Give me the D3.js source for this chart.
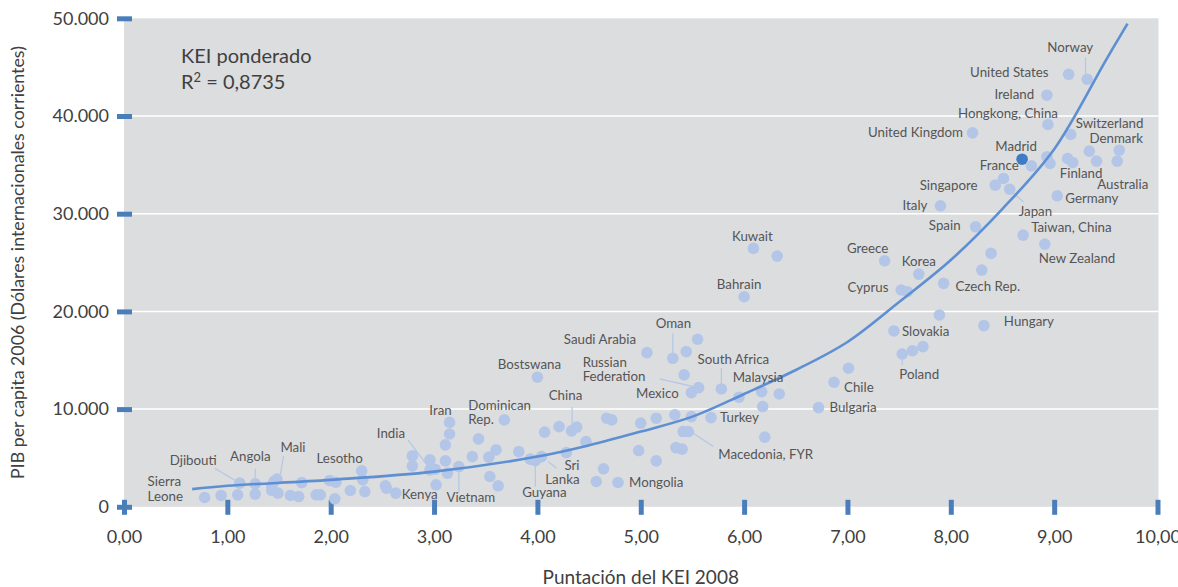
<!DOCTYPE html>
<html>
<head>
<meta charset="utf-8">
<script src="https://cdn.jsdelivr.net/npm/d3@7"></script>
<style>
  body { margin: 0; background: #fff; }
  svg { display: block; font-family: Lato, "Open Sans", sans-serif; }
</style>
</head>
<body>
<div id="chart"></div>
<script>
// KEI 2008 score vs GDP per capita 2006
const countryNames = [
  "Sierra Leone", "", "", "Djibouti", "", "Angola", "", "", "", "Mali",
  "", "", "", "", "", "", "Lesotho", "", "", "",
  "", "", "", "", "", "Kenya", "", "", "", "India",
  "", "", "", "", "", "Iran", "", "Vietnam", "", "Dominican Rep.",
  "", "", "", "", "", "", "", "Guyana", "Sri Lanka", "Bostswana",
  "", "", "China", "", "", "", "", "", "", "",
  "Mongolia", "", "", "", "", "", "Macedonia, FYR", "", "", "",
  "", "Mexico", "", "Russian Federation", "Saudi Arabia", "Oman", "", "", "South Africa", "",
  "Malaysia", "", "", "", "Turkey", "Bulgaria", "Chile", "", "Kuwait", "",
  "Bahrain", "Greece", "Korea", "Cyprus", "", "Czech Rep.", "", "", "Spain", "Italy",
  "Taiwan, China", "New Zealand", "Germany", "", "Hungary", "Slovakia", "Poland", "", "", "Hongkong, China",
  "United Kingdom", "Switzerland", "Madrid", "France", "", "", "", "Finland", "", "Denmark",
  "", "Australia", "Singapore", "", "Japan", "United States", "Norway", "Ireland"
];

const keiScores = [
  0.78, 0.94, 1.10, 1.12, 1.27, 1.27, 1.43, 1.43, 1.45, 1.48,
  1.49, 1.61, 1.69, 1.72, 1.86, 1.90, 1.99, 2.05, 2.04, 2.19,
  2.30, 2.31, 2.33, 2.53, 2.54, 2.63, 2.79, 2.79, 2.96, 2.96,
  3.01, 3.02, 3.11, 3.11, 3.15, 3.15, 3.13, 3.24, 3.43, 3.68,
  3.37, 3.53, 3.60, 3.54, 3.62, 3.82, 3.93, 3.98, 4.04, 4.00,
  4.07, 4.21, 4.33, 4.38, 4.28, 4.47, 4.67, 4.72, 4.64, 4.57,
  4.78, 5.00, 5.15, 5.33, 5.49, 5.41, 5.46, 4.98, 5.15, 5.34,
  5.40, 5.49, 5.42, 5.56, 5.06, 5.31, 5.44, 5.55, 5.78, 5.95,
  6.17, 6.34, 6.18, 6.20, 5.68, 6.72, 6.87, 7.01, 6.09, 6.32,
  6.00, 7.36, 7.69, 7.52, 7.58, 7.93, 8.30, 8.39, 8.24, 7.90,
  8.70, 8.91, 9.03, 7.89, 8.32, 7.45, 7.53, 7.63, 7.73, 8.94,
  8.21, 9.16, 8.69, 8.78, 8.93, 8.96, 9.13, 9.18, 9.34, 9.63,
  9.41, 9.61, 8.43, 8.51, 8.57, 9.14, 9.32, 8.93
];

const gdpPerCapita = [
  950, 1160, 1230, 2420, 1300, 2350, 1670, 2150, 2590, 2830,
  1400, 1160, 1050, 2480, 1230, 1230, 2690, 2520, 820, 1670,
  3680, 2760, 1560, 2150, 1910, 1400, 5210, 4190, 4800, 3780,
  3850, 2250, 4700, 6340, 7450, 8640, 3450, 4120, 6950, 8900,
  5140, 5080, 5830, 3100, 2150, 5650, 4880, 4730, 5140, 13260,
  7640, 8210, 7770, 8150, 5550, 6680, 9070, 8900, 3890, 2590,
  2490, 8560, 9070, 9410, 9230, 7700, 7700, 5760, 4700, 6060,
  5900, 11690, 13500, 12200, 15780, 15200, 15880, 17150, 12060, 11220,
  11790, 11550, 10260, 7130, 9130, 10150, 12750, 14180, 26450, 25660,
  21500, 25180, 23820, 22190, 22010, 22870, 24230, 25940, 28660, 30810,
  27810, 26890, 31830, 19630, 18540, 18000, 15640, 15980, 16390, 39130,
  38270, 38110, 35580, 34900, 35820, 35140, 35650, 35240, 36400, 36500,
  35380, 35380, 32920, 33610, 32510, 44270, 43760, 42130
];

// trendline (exponential fit in the original)
const trendKei = [0.66, 1, 2, 3, 4, 4.5, 5, 5.5, 6, 6.5, 7, 7.5, 8, 8.5, 9, 9.5, 9.71];
const trendGdp = [1810, 2150, 2760, 3600, 5140, 6300, 7700, 9230, 11550, 14000, 16870, 20960, 25260, 30500, 36600, 45700, 49460];

const xTicks = [0, 1, 2, 3, 4, 5, 6, 7, 8, 9, 10];
const yTicks = [0, 10000, 20000, 30000, 40000, 50000];

const highlighted = "Madrid";

// label placement relative to its point (px)
const labelLayout = [
  { name: "Sierra Leone", lines: ["Sierra", "Leone"], dx: -57, dy: -11.5, anchor: "start" },
  { name: "Djibouti", dx: -70, dy: -18, anchor: "start", leader: [-25, -15, -5, -3] },
  { name: "Angola", dx: -5, dy: -23, anchor: "middle", leader: [0, -15, 0, -6] },
  { name: "Mali", dx: 16, dy: -27, anchor: "middle", leader: [6.6, -23, 3.5, -5] },
  { name: "Lesotho", dx: 10, dy: -18, anchor: "middle" },
  { name: "Kenya", dx: 6, dy: 5.7, anchor: "start" },
  { name: "India", dx: -39, dy: -32, anchor: "middle", leader: [-22, -30, -3, -5] },
  { name: "Iran", dx: -9, dy: -7.5, anchor: "middle" },
  { name: "Vietnam", dx: 12, dy: 35, anchor: "middle", leader: [0, 5, 0, 26] },
  { name: "Dominican Rep.", lines: ["Dominican", "Rep."], dx: -36, dy: -10, anchor: "start" },
  { name: "China", dx: -6, dy: -31, anchor: "middle", leader: [0.6, -24, 0.6, -5] },
  { name: "Sri Lanka", lines: ["Sri", "Lanka"], dx: 38, dy: 13, anchor: "end", leader: [6.6, 5, 15, 11.6] },
  { name: "Guyana", dx: 9, dy: 36.5, anchor: "middle", leader: [0, 4, 0, 26] },
  { name: "Mongolia", dx: 11, dy: 5, anchor: "start" },
  { name: "Bostswana", dx: -8, dy: -8, anchor: "middle" },
  { name: "Saudi Arabia", dx: -47, dy: -9, anchor: "middle" },
  { name: "Oman", dx: 0.6, dy: -30, anchor: "middle", leader: [0, -25, 0, -5] },
  { name: "Russian Federation", lines: ["Russian", "Federation"], dx: -116, dy: -21, anchor: "start", leader: [-39, -8.7, -5, -1] },
  { name: "Mexico", dx: -34, dy: 5, anchor: "middle" },
  { name: "South Africa", dx: 12, dy: -25, anchor: "middle", leader: [0, -21, 0, -5] },
  { name: "Malaysia", dx: -3.7, dy: -9.7, anchor: "middle" },
  { name: "Turkey", dx: 9, dy: 4, anchor: "start" },
  { name: "Macedonia, FYR", dx: 30, dy: 27, anchor: "start", leader: [5, 1.6, 25, 15] },
  { name: "Bulgaria", dx: 11, dy: 4, anchor: "start" },
  { name: "Chile", dx: 10, dy: 10, anchor: "start" },
  { name: "Poland", dx: 17, dy: 25, anchor: "middle", leader: [0, 5, 0, 11] },
  { name: "Slovakia", dx: 8, dy: 5, anchor: "start" },
  { name: "Hungary", dx: 20, dy: 0, anchor: "start" },
  { name: "Kuwait", dx: -1, dy: -7, anchor: "middle" },
  { name: "Bahrain", dx: -5, dy: -8, anchor: "middle" },
  { name: "Greece", dx: -17, dy: -8, anchor: "middle" },
  { name: "Korea", dx: 0, dy: -8, anchor: "middle" },
  { name: "Cyprus", dx: -12.7, dy: 2, anchor: "end" },
  { name: "Czech Rep.", dx: 12, dy: 8, anchor: "start" },
  { name: "Spain", dx: -15, dy: 3, anchor: "end" },
  { name: "Italy", dx: -13, dy: 4, anchor: "end" },
  { name: "Japan", dx: 9, dy: 27, anchor: "start", leader: [4, 4, 14, 13] },
  { name: "Taiwan, China", dx: 8, dy: -3, anchor: "start" },
  { name: "New Zealand", dx: -6, dy: 19, anchor: "start" },
  { name: "Germany", dx: 8, dy: 7, anchor: "start" },
  { name: "Singapore", dx: -17.7, dy: 5, anchor: "end" },
  { name: "Australia", dx: -20, dy: 28, anchor: "start" },
  { name: "Finland", dx: -13, dy: 15, anchor: "start" },
  { name: "France", dx: -12.7, dy: 4.3, anchor: "end" },
  { name: "Madrid", dx: -6, dy: -8, anchor: "middle" },
  { name: "Denmark", dx: -3, dy: -7, anchor: "middle" },
  { name: "Switzerland", dx: 5, dy: -6, anchor: "start" },
  { name: "United Kingdom", dx: -9.6, dy: 4, anchor: "end" },
  { name: "Hongkong, China", dx: -40, dy: -6, anchor: "middle" },
  { name: "Ireland", dx: -12.7, dy: 4, anchor: "end" },
  { name: "United States", dx: -20, dy: 3, anchor: "end" },
  { name: "Norway", dx: -17, dy: -27, anchor: "middle", leader: [-1.7, -22, -1.7, -5] }
];

const width = 1178;
const height = 587;
const plotLeft = 124;
const plotRight = 1157.5;
const plotTop = 18.3;
const plotBottom = 506.8;

const locale = d3.formatLocale({ decimal: ",", thousands: ".", grouping: [3], currency: ["", "€"] });
const fmtX = locale.format(",.2f");
const fmtY = locale.format(",.0f");

const points = keiScores.map((k, i) => ({ name: countryNames[i], kei: k, gdp: gdpPerCapita[i] }));
const trend = trendKei.map((k, i) => ({ kei: k, gdp: trendGdp[i] }));

const x = d3.scaleLinear().domain([0, 10]).range([plotLeft, plotRight]);
const y = d3.scaleLinear().domain([0, 50000]).range([plotBottom, plotTop]);

const svg = d3.select("#chart").append("svg")
  .attr("width", width)
  .attr("height", height)
  .attr("viewBox", [0, 0, width, height]);

svg.append("rect").attr("width", width).attr("height", height).attr("fill", "#fff");

// plot background
svg.append("rect")
  .attr("x", x(0)).attr("y", y(50000))
  .attr("width", x(10) - x(0) + 1).attr("height", y(0) - y(50000))
  .attr("fill", "#dcdddf");

// gridlines
svg.append("g")
  .selectAll("line")
  .data(yTicks.filter((d) => d > 0 && d < 50000))
  .join("line")
  .attr("x1", x(0)).attr("x2", x(10) + 1)
  .attr("y1", (d) => y(d)).attr("y2", (d) => y(d))
  .attr("stroke", "#fff").attr("stroke-width", 1.5);

const tickColor = "#4a7ebb";

// y axis
const yAxis = svg.append("g")
  .attr("transform", `translate(${x(0)},0)`)
  .call(d3.axisLeft(y).tickValues(yTicks).tickFormat(fmtY).tickSizeInner(7).tickSizeOuter(0).tickPadding(8));
yAxis.select(".domain").remove();
yAxis.selectAll(".tick line").attr("x1", -7).attr("x2", 8).attr("stroke", tickColor).attr("stroke-width", 5);
yAxis.selectAll(".tick text").attr("fill", "#404040").style("font-size", "18px").style("font-family", "Lato, sans-serif");

// x axis
const xAxis = svg.append("g")
  .attr("transform", `translate(0,${y(0)})`)
  .call(d3.axisBottom(x).tickValues(xTicks).tickFormat(fmtX).tickSizeInner(8).tickSizeOuter(0).tickPadding(15));
xAxis.select(".domain").remove();
xAxis.selectAll(".tick line").attr("y1", -7).attr("y2", 8).attr("stroke", tickColor).attr("stroke-width", 5);
xAxis.selectAll(".tick text").attr("fill", "#404040").style("font-size", "18px").style("font-family", "Lato, sans-serif");

// leader lines
const byName = new Map(points.filter((p) => p.name).map((p) => [p.name, p]));
svg.append("g")
  .selectAll("line")
  .data(labelLayout.filter((l) => l.leader))
  .join("line")
  .attr("x1", (l) => x(byName.get(l.name).kei) + l.leader[0])
  .attr("y1", (l) => y(byName.get(l.name).gdp) + l.leader[1])
  .attr("x2", (l) => x(byName.get(l.name).kei) + l.leader[2])
  .attr("y2", (l) => y(byName.get(l.name).gdp) + l.leader[3])
  .attr("stroke", "#b4c6e7").attr("stroke-width", 1.2);

// points
svg.append("g")
  .selectAll("circle")
  .data(points)
  .join("circle")
  .attr("cx", (d) => x(d.kei))
  .attr("cy", (d) => y(d.gdp))
  .attr("r", 5.8)
  .attr("fill", (d) => (d.name === highlighted ? "#3f7bc4" : "#b4c6e7"));

// trendline
const line = d3.line()
  .x((d) => x(d.kei))
  .y((d) => y(d.gdp))
  .curve(d3.curveCatmullRom);

svg.append("path")
  .datum(trend)
  .attr("d", line)
  .attr("fill", "none")
  .attr("stroke", "#5e8fd2")
  .attr("stroke-width", 2.6);

// point labels
const labels = svg.append("g")
  .style("font-size", "13.3px")
  .attr("fill", "#555");

labelLayout.forEach((l) => {
  const p = byName.get(l.name);
  const lines = l.lines || [l.name];
  const t = labels.append("text")
    .attr("x", x(p.kei) + l.dx)
    .attr("y", y(p.gdp) + l.dy)
    .attr("text-anchor", l.anchor);
  lines.forEach((s, i) => {
    t.append("tspan")
      .attr("x", x(p.kei) + l.dx)
      .attr("dy", i === 0 ? 0 : 14.5)
      .text(s);
  });
});

// annotation
svg.append("text")
  .attr("x", 181).attr("y", 63)
  .attr("fill", "#404040")
  .style("font-size", "20px")
  .text("KEI ponderado");

const r2 = svg.append("text")
  .attr("x", 181).attr("y", 89)
  .attr("fill", "#404040")
  .style("font-size", "20px");
r2.append("tspan").text("R");
r2.append("tspan").attr("dy", -7).style("font-size", "13px").text("2");
r2.append("tspan").attr("dy", 7).text(" = 0,8735");

// axis titles
svg.append("text")
  .attr("x", (x(0) + x(10)) / 2).attr("y", 584)
  .attr("text-anchor", "middle")
  .attr("fill", "#404040")
  .style("font-size", "19px")
  .text("Puntación del KEI 2008");

svg.append("text")
  .attr("transform", `translate(24,${(y(0) + y(50000)) / 2}) rotate(-90)`)
  .attr("text-anchor", "middle")
  .attr("fill", "#404040")
  .style("font-size", "17.8px")
  .text("PIB per capita 2006 (Dólares internacionales corrientes)");
</script>
</body>
</html>
